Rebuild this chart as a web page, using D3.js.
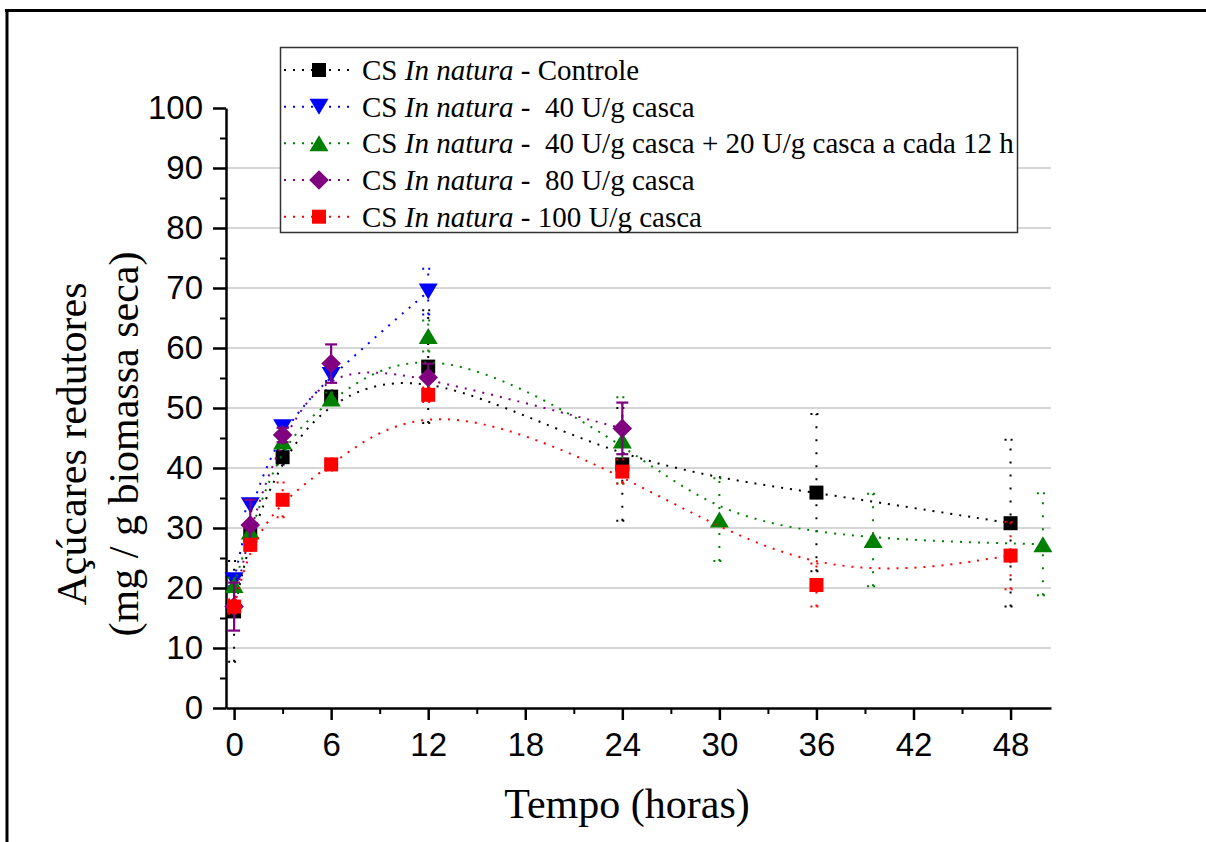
<!DOCTYPE html>
<html>
<head>
<meta charset="utf-8">
<script src="https://cdn.jsdelivr.net/npm/d3@7"></script>
<style>
  body { margin: 0; background: #fff; }
  svg { display: block; }
  .tick text { font-family: "Liberation Sans", Arial, sans-serif; font-size: 33px; fill: #000; }
  .serif { font-family: "Liberation Serif", "Times New Roman", serif; }
</style>
</head>
<body>
<svg id="chart" width="1206" height="842"></svg>
<script>
// Axis ticks
const xTicks = [0, 6, 12, 18, 24, 30, 36, 42, 48];
const xMinorTicks = [3, 9, 15, 21, 27, 33, 39, 45];
const yTicks = [0, 10, 20, 30, 40, 50, 60, 70, 80, 90, 100];
const yMinorTicks = [5, 15, 25, 35, 45, 55, 65, 75, 85, 95];
const gridValues = [10, 20, 30, 40, 50, 60, 70, 80, 90];

// Controle
const controleTime = [0, 1, 3, 6, 12, 24, 36, 48];
const controleValue = [16.1, 28.8, 41.8, 51.9, 56.9, 40.6, 35.9, 30.8];
const controleError = [8.4, 1.2, 1.2, 1.0, 9.4, 9.4, 13.1, 13.9];

// 40 U/g casca
const u40Time = [0, 1, 3, 6, 12];
const u40Value = [21.3, 33.8, 46.8, 55.5, 69.4];
const u40Error = [1.0, 1.0, 1.0, 1.0, 3.8];

// 40 U/g casca + 20 U/g casca a cada 12 h
const u40plusTime = [0, 1, 3, 6, 12, 24, 30, 39.5, 50];
const u40plusValue = [20.5, 29.4, 44.4, 51.6, 62.0, 44.6, 31.4, 28.0, 27.3];
const u40plusError = [1.2, 1.2, 1.0, 1.0, 2.6, 7.2, 6.9, 7.7, 8.5];

// 80 U/g casca
const u80Time = [0, 1, 3, 6, 12, 24];
const u80Value = [16.9, 30.5, 45.5, 57.4, 55.1, 46.6];
const u80Error = [4.0, 4.2, 1.2, 3.2, 2.3, 4.3];

// 100 U/g casca
const u100Time = [0, 1, 3, 6, 12, 24, 36, 48];
const u100Value = [16.9, 27.2, 34.7, 40.6, 52.2, 39.4, 20.5, 25.4];
const u100Error = [1.2, 1.0, 2.9, 1.0, 1.2, 2.0, 3.6, 5.6];

const legendPrefix = "CS ";
const legendItalic = "In natura";
const legendSuffix = [
  " - Controle",
  " -  40 U/g casca",
  " -  40 U/g casca + 20 U/g casca a cada 12 h",
  " -  80 U/g casca",
  " - 100 U/g casca"
];

const xTitle = "Tempo (horas)";
const yTitle1 = "Açúcares redutores";
const yTitle2 = "(mg / g biomassa seca)";

const series = [
  { t: controleTime, v: controleValue, e: controleError, color: "#000000", symbol: "square", solidErr: false },
  { t: u40Time, v: u40Value, e: u40Error, color: "#0000ff", symbol: "triangleDown", solidErr: false },
  { t: u40plusTime, v: u40plusValue, e: u40plusError, color: "#008000", symbol: "triangleUp", solidErr: false },
  { t: u80Time, v: u80Value, e: u80Error, color: "#800080", symbol: "diamond", solidErr: true },
  { t: u100Time, v: u100Value, e: u100Error, color: "#ff0000", symbol: "square", solidErr: false }
].map((s, i) => ({ ...s, label: legendSuffix[i],
  points: s.t.map((t, j) => ({ t, v: s.v[j], e: s.e[j] })) }));

const svg = d3.select("#chart");

// Outer frame (top and left edges)
svg.append("line").attr("x1", 5).attr("x2", 1206).attr("y1", 10.5).attr("y2", 10.5)
  .attr("stroke", "#000").attr("stroke-width", 3);
svg.append("line").attr("x1", 7).attr("x2", 7).attr("y1", 9).attr("y2", 842)
  .attr("stroke", "#000").attr("stroke-width", 3);

const x = d3.scaleLinear().domain([-0.5, 50.5]).range([226, 1051]);
const y = d3.scaleLinear().domain([0, 100]).range([708, 108]);

// Grid
svg.append("g").selectAll("line").data(gridValues).join("line")
  .attr("x1", x.range()[0]).attr("x2", x.range()[1])
  .attr("y1", d => y(d)).attr("y2", d => y(d))
  .attr("stroke", "#c8c8c8").attr("stroke-width", 1.5);

// Axes
function styleAxis(g) {
  g.select(".domain").attr("stroke", "#000").attr("stroke-width", 2.5);
  g.selectAll(".tick line").attr("stroke", "#000").attr("stroke-width", 2.5);
}
svg.append("g").attr("transform", `translate(0,${y(0)})`)
  .call(d3.axisBottom(x).tickValues(xMinorTicks).tickFormat("").tickSize(6).tickSizeOuter(0))
  .call(g => { g.select(".domain").remove(); g.selectAll(".tick line").attr("stroke", "#000").attr("stroke-width", 2); });
svg.append("g").attr("transform", `translate(${x.range()[0]},0)`)
  .call(d3.axisLeft(y).tickValues(yMinorTicks).tickFormat("").tickSize(6).tickSizeOuter(0))
  .call(g => { g.select(".domain").remove(); g.selectAll(".tick line").attr("stroke", "#000").attr("stroke-width", 2); });
svg.append("g").attr("transform", `translate(0,${y(0)})`)
  .call(d3.axisBottom(x).tickValues(xTicks).tickSize(12).tickPadding(13).tickSizeOuter(0))
  .call(styleAxis);
svg.append("g").attr("transform", `translate(${x.range()[0]},0)`)
  .call(d3.axisLeft(y).tickValues(yTicks).tickSize(13).tickPadding(10).tickSizeOuter(0))
  .call(styleAxis);

// Axis titles
svg.append("text").attr("class", "serif").attr("x", 627).attr("y", 818)
  .attr("text-anchor", "middle").attr("font-size", 42).text(xTitle);
const yt = svg.append("g").attr("transform", "translate(0,444) rotate(-90)");
yt.append("text").attr("class", "serif").attr("x", 0).attr("y", 86)
  .attr("text-anchor", "middle").attr("font-size", 42).text(yTitle1);
yt.append("text").attr("class", "serif").attr("x", 0).attr("y", 138)
  .attr("text-anchor", "middle").attr("font-size", 42).text(yTitle2);

// Marker shapes
function symbolPath(kind) {
  switch (kind) {
    case "square": return "M-7,-7H7V7H-7Z";
    case "triangleUp": return "M0,-8L9.5,8L-9.5,8Z";
    case "triangleDown": return "M0,8L9.5,-8L-9.5,-8Z";
    case "diamond": return "M0,-9.8L9.8,0L0,9.8L-9.8,0Z";
  }
}

const line = d3.line().curve(d3.curveBasis).x(d => x(d.t)).y(d => y(d.v));

series.forEach(s => {
  const g = svg.append("g");
  // smoothed dotted connecting curve
  g.append("path").datum(s.points).attr("d", line)
    .attr("fill", "none").attr("stroke", s.color).attr("stroke-width", 2)
    .attr("stroke-dasharray", "2 7");
  // error bars
  const eb = g.append("g").attr("stroke", s.color)
    .attr("stroke-width", s.solidErr ? 2.2 : 2)
    .attr("stroke-dasharray", s.solidErr ? null : "2 11");
  eb.selectAll("line.v").data(s.points).join("line").attr("class", "v")
    .attr("x1", d => x(d.t)).attr("x2", d => x(d.t))
    .attr("y1", d => y(d.v - d.e)).attr("y2", d => y(d.v + d.e));
  ["lo", "hi"].forEach(k => {
    eb.selectAll("line." + k).data(s.points).join("line").attr("class", k)
      .attr("x1", d => x(d.t) - 6).attr("x2", d => x(d.t) + 6)
      .attr("y1", d => y(k === "lo" ? d.v - d.e : d.v + d.e))
      .attr("y2", d => y(k === "lo" ? d.v - d.e : d.v + d.e))
      .attr("stroke-dasharray", s.solidErr ? null : "2 4");
  });
  // markers
  g.selectAll("path.m").data(s.points).join("path").attr("class", "m")
    .attr("transform", d => `translate(${x(d.t)},${y(d.v)})`)
    .attr("d", symbolPath(s.symbol)).attr("fill", s.color);
});

// Legend
const lg = svg.append("g");
lg.append("rect").attr("x", 280.5).attr("y", 47.5).attr("width", 737).attr("height", 185)
  .attr("fill", "#fff").attr("stroke", "#333").attr("stroke-width", 1.5);
const rowY = d3.scaleLinear().domain([0, 4]).range([70, 216.7]);
series.forEach((s, i) => {
  const cy = rowY(i);
  lg.append("line").attr("x1", 284).attr("x2", 354).attr("y1", cy).attr("y2", cy)
    .attr("stroke", s.color).attr("stroke-width", 2).attr("stroke-dasharray", "2 7");
  lg.append("path").attr("transform", `translate(319,${cy})`)
    .attr("d", symbolPath(s.symbol)).attr("fill", s.color);
  const t = lg.append("text").attr("class", "serif").attr("x", 362).attr("y", cy + 10)
    .attr("font-size", 29).style("white-space", "pre");
  t.append("tspan").text(legendPrefix);
  t.append("tspan").attr("font-style", "italic").text(legendItalic);
  t.append("tspan").text(s.label);
});
</script>
</body>
</html>
